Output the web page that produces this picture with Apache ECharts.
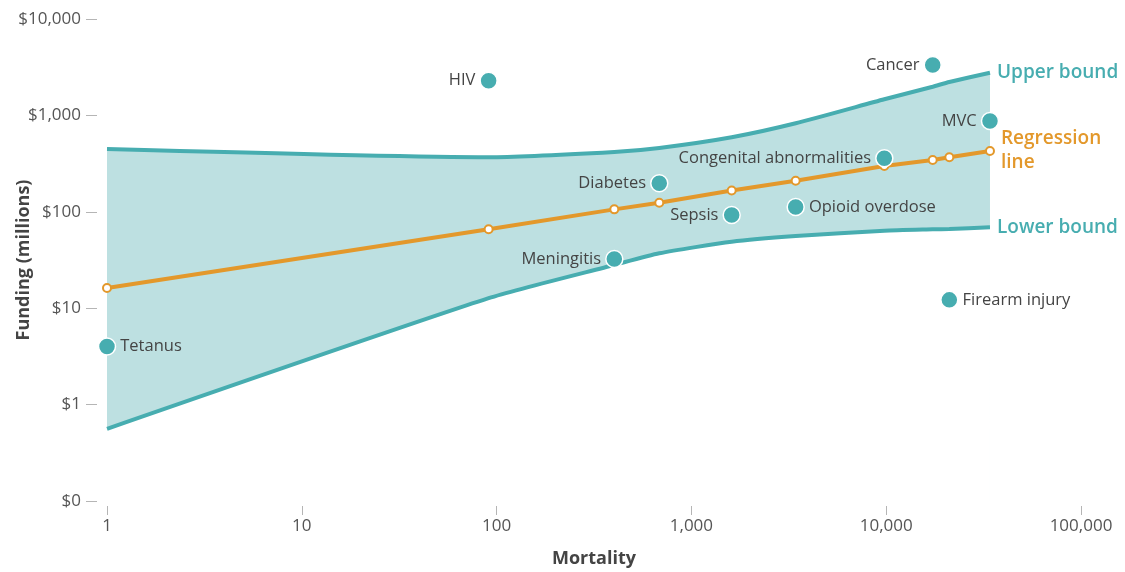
<!DOCTYPE html>
<html>
<head>
<meta charset="utf-8">
<script src="https://cdn.jsdelivr.net/npm/echarts@6/dist/echarts.min.js"></script>
<style>
html,body{margin:0;padding:0;background:#fff;}
#chart{width:1125px;height:572px;}
</style>
</head>
<body>
<div id="chart"></div>
<script>
// ---- data ----
var causes     = ['Tetanus','HIV','Meningitis','Diabetes','Sepsis','Opioid overdose','Congenital abnormalities','Cancer','Firearm injury','MVC'];
var mortality  = [1, 91, 402, 684, 1610, 3430, 9780, 17330, 21090, 34100];
var funding    = [4.0, 2290, 32.4, 198, 92.6, 112, 359, 3330, 12.2, 875];
var regression = [16.2, 65.8, 106, 124, 166, 210, 299, 345, 368, 427];
var upperBound = [448, 368, 417, 459, 593, 828, 1469, 1985, 2221, 2773];
var lowerBound = [0.56, 12.7, 28.1, 37.1, 49, 56.1, 63.7, 65.8, 66.4, 69];
var xTicks = [1, 10, 100, 1000, 10000, 100000];
var yTicks = [0.1, 1, 10, 100, 1000, 10000];

// ---- styles ----
var TEAL = '#47adb0', BAND = '#bde0e1', ORANGE = '#e3982b';
var FONT = '"Open Sans", sans-serif';
var rightLabeled = ['Tetanus', 'Opioid overdose', 'Firearm injury'];

function pairs(ys) { return mortality.map(function (x, i) { return [x, ys[i]]; }); }

var chart = echarts.init(document.getElementById('chart'));
chart.setOption({
  animation: false,
  textStyle: { fontFamily: FONT },
  grid: { left: 107, right: 44, top: 19, bottom: 71, containLabel: false, outerBoundsMode: 'none' },
  xAxis: {
    type: 'log', logBase: 10, min: xTicks[0], max: xTicks[xTicks.length - 1],
    offset: 5,
    axisLine: { show: false },
    axisTick: { show: true, length: 9, lineStyle: { color: '#b5b5b5', width: 1 } },
    axisLabel: {
      margin: 12, fontSize: 17, color: '#555', fontFamily: FONT,
      formatter: function (v) { return Math.round(v).toLocaleString('en-US'); }
    },
    splitLine: { show: false }, minorTick: { show: false },
    name: 'Mortality', nameLocation: 'middle', nameGap: 44, nameMoveOverlap: false,
    nameTextStyle: { fontSize: 18, fontWeight: 'bold', color: '#444', fontFamily: FONT }
  },
  yAxis: {
    type: 'log', logBase: 10, min: yTicks[0], max: yTicks[yTicks.length - 1],
    offset: 10,
    axisLine: { show: false },
    axisTick: { show: true, length: 11, lineStyle: { color: '#b5b5b5', width: 1 } },
    axisLabel: {
      margin: 16, fontSize: 17, color: '#555', fontFamily: FONT,
      formatter: function (v) { return v < 1 ? '$0' : '$' + Math.round(v).toLocaleString('en-US'); }
    },
    splitLine: { show: false }, minorTick: { show: false },
    name: 'Funding (millions)', nameLocation: 'middle', nameGap: 64, nameRotate: 90, nameMoveOverlap: false,
    nameTextStyle: { fontSize: 18, fontWeight: 'bold', color: '#444', fontFamily: FONT }
  },
  series: [
    {
      name: 'Upper bound', type: 'line', smooth: 0.2,
      data: pairs(upperBound), showSymbol: false, symbol: 'none', z: 1,
      lineStyle: { color: TEAL, width: 4 },
      areaStyle: { color: BAND, opacity: 1, origin: 'start' },
      endLabel: { show: true, formatter: 'Upper bound', distance: 7, fontSize: 19, fontWeight: 600, color: TEAL, fontFamily: FONT }
    },
    {
      name: 'Lower bound', type: 'line', smooth: 0.2,
      data: pairs(lowerBound), showSymbol: false, symbol: 'none', z: 2,
      lineStyle: { color: TEAL, width: 4 },
      areaStyle: { color: '#ffffff', opacity: 1, origin: 'start' },
      endLabel: { show: true, formatter: 'Lower bound', distance: 7, fontSize: 19, fontWeight: 600, color: TEAL, fontFamily: FONT }
    },
    {
      name: 'Regression line', type: 'line', data: pairs(regression), z: 3,
      symbol: 'emptyCircle', symbolSize: 8, showAllSymbol: true,
      lineStyle: { color: ORANGE, width: 4 },
      itemStyle: { color: ORANGE, borderWidth: 1.5 },
      endLabel: { show: true, formatter: 'Regression\nline', distance: 11, fontSize: 19, fontWeight: 600, lineHeight: 24, color: ORANGE, fontFamily: FONT, align: 'left' }
    },
    {
      name: 'Causes', type: 'scatter', z: 5, symbolSize: 17,
      itemStyle: { color: TEAL, borderColor: '#fff', borderWidth: 1.5, opacity: 1 },
      data: causes.map(function (c, i) {
        return {
          name: c, value: [mortality[i], funding[i]],
          label: { position: rightLabeled.indexOf(c) >= 0 ? 'right' : 'left' }
        };
      }),
      label: {
        show: true, formatter: '{b}', fontSize: 16.5, color: '#444', distance: 4, fontFamily: FONT
      }
    }
  ]
});
</script>
</body>
</html>
